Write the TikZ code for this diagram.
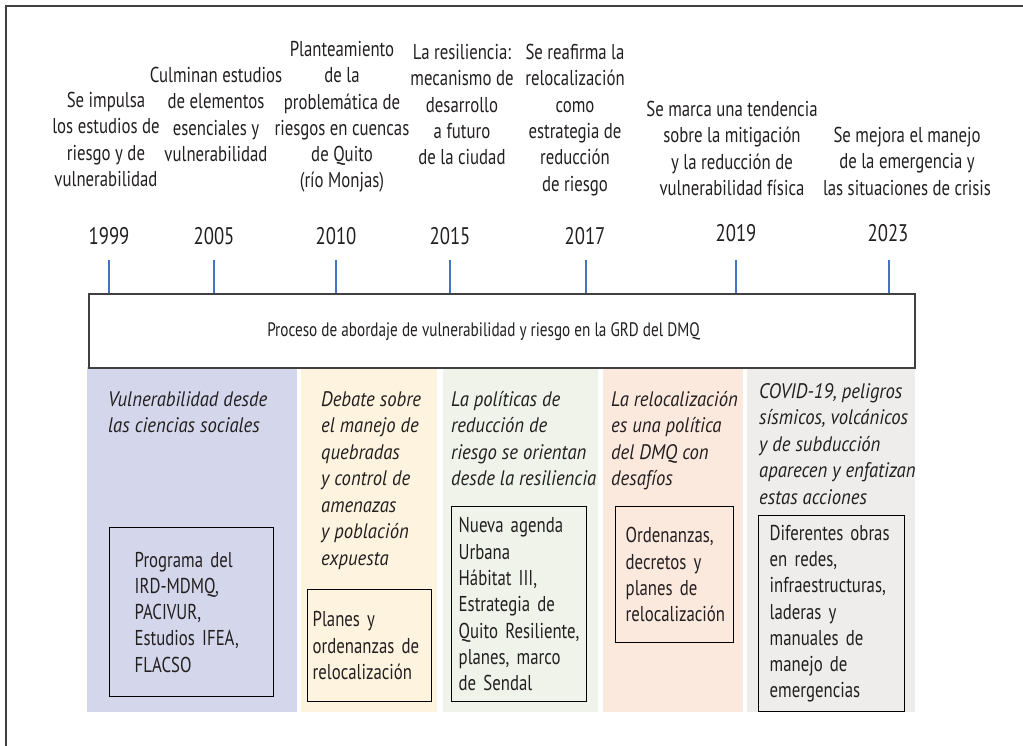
\documentclass[tikz,border=0pt]{standalone}
\usepackage{fontspec}
\setmainfont{PT Sans}[FakeStretch=0.78]
\newfontfamily\hdfont{PT Sans}[FakeStretch=0.89]
\definecolor{cBlue}{HTML}{D4D7EB}
\definecolor{cYel}{HTML}{FEF3DE}
\definecolor{cGrn}{HTML}{EFF3EA}
\definecolor{cPch}{HTML}{FCE9DE}
\definecolor{cGry}{HTML}{EEEDEB}
\definecolor{tickc}{HTML}{4472C4}
\definecolor{ink}{HTML}{231F20}
\definecolor{frame}{HTML}{404040}
\begin{document}
\begin{tikzpicture}[x=1pt,y=-1pt,
  toplabel/.style={anchor=north,align=center,inner sep=0pt,text=ink,font=\fontsize{21.5}{26.3}\selectfont},
  yearlabel/.style={anchor=center,inner sep=0pt,text=ink,font=\fontsize{24}{28}\selectfont},
  colbg/.style={anchor=north west,inner sep=0pt,draw=none},
  colhead/.style={anchor=north west,align=left,inner sep=0pt,text=ink,font=\hdfont\fontsize{21}{26.5}\selectfont\itshape},
  itembox/.style={anchor=north west,draw=black,line width=1.4pt,align=left,inner ysep=0pt,text=ink,font=\fontsize{21.5}{26.3}\selectfont},
  tickline/.style={draw=tickc,line width=1.6pt},
  mainbox/.style={anchor=north west,draw=frame,line width=1.8pt,inner sep=0pt,minimum width=826pt,minimum height=74pt}
]
\useasboundingbox (0,0) rectangle (1023,746);
% outer frame (top and left edges)
\coordinate (fTL) at (6,6);
\coordinate (fTR) at (1023,6);
\coordinate (fBL) at (6,746);
\draw[frame,line width=1.8pt] (fTR) -- (fTL) -- (fBL);

% columns backgrounds
\node[colbg,fill=cBlue,minimum width=210pt,minimum height=345pt] (c1) at (87,367) {};
\node[colbg,fill=cYel,minimum width=136pt,minimum height=345pt] (c2) at (301,367) {};
\node[colbg,fill=cGrn,minimum width=155pt,minimum height=345pt] (c3) at (443,367) {};
\node[colbg,fill=cPch,minimum width=140pt,minimum height=345pt] (c4) at (603,367) {};
\node[colbg,fill=cGry,minimum width=168pt,minimum height=345pt] (c5) at (747,367) {};

% main box
\node[mainbox] (main) at (88,293) {};
\node[inner sep=0pt,text=ink,font=\fontsize{19.5}{24}\selectfont] (mainlbl) at (483.5,332) {Proceso de abordaje de vulnerabilidad y riesgo en la GRD del DMQ};

% ticks
\coordinate (t1) at (109,260);
\coordinate (t2) at (214,260);
\coordinate (t3) at (336,260);
\coordinate (t4) at (450,260);
\coordinate (t5) at (586,260);
\coordinate (t6) at (736,260);
\coordinate (t7) at (889,260);
\foreach \t in {t1,t2,t3,t4,t5,t6,t7}{\draw[tickline] (\t) -- (\t |- main.north);}

% years
\node[yearlabel] (y1) at (109,236) {1999};
\node[yearlabel] (y2) at (214,236) {2005};
\node[yearlabel] (y3) at (336,236) {2010};
\node[yearlabel] (y4) at (450,236) {2015};
\node[yearlabel] (y5) at (585,236) {2017};
\node[yearlabel] (y6) at (736,233) {2019};
\node[yearlabel] (y7) at (888,233) {2023};

% top labels
\node[toplabel] (l1) at (106,92) {Se impulsa\\los estudios de\\riesgo y de\\vulnerabilidad};
\node[toplabel] (l2) at (216,67) {Culminan estudios\\de elementos\\esenciales y\\vulnerabilidad};
\node[toplabel] (l3) at (342,41) {Planteamiento\\de la\\problemática de\\riesgos en cuencas\\de Quito\\(río Monjas)};
\node[toplabel] (l4) at (462,44) {La resiliencia:\\mecanismo de\\desarrollo\\a futuro\\de la ciudad};
\node[toplabel] (l5) at (575,44) {Se reafirma la\\relocalización\\como\\estrategia de\\reducción\\de riesgo};
\node[toplabel] (l6) at (732,101) {Se marca una tendencia\\sobre la mitigación\\y la reducción de\\vulnerabilidad física};
\node[toplabel] (l7) at (907,127) {Se mejora el manejo\\de la emergencia y\\las situaciones de crisis};

% column headings
\node[colhead] (h1) at (108,391) {Vulnerabilidad desde\\las ciencias sociales};
\node[colhead] (h2) at (321,391) {Debate sobre\\el manejo de\\quebradas\\y control de\\amenazas\\y población\\expuesta};
\node[colhead] (h3) at (451,391) {La políticas de\\reducción de\\riesgo se orientan\\desde la resiliencia};
\node[colhead] (h4) at (611,391) {La relocalización\\es una política\\del DMQ con\\desafíos};
\node[colhead] (h5) at (759,383) {COVID-19, peligros\\sísmicos, volcánicos\\y de subducción\\aparecen y enfatizan\\estas acciones};

% item boxes
\node[itembox,inner xsep=25pt,text width=114pt,minimum height=169pt] (b1) at (109,527) {Programa del\\IRD-MDMQ,\\PACIVUR,\\Estudios IFEA,\\FLACSO};
\node[itembox,inner xsep=5pt,text width=114pt,minimum height=112pt] (b2) at (307,589) {Planes y\\ordenanzas de\\relocalización};
\node[itembox,inner xsep=7pt,text width=121pt,minimum height=195pt] (b3) at (451,506) {Nueva agenda\\Urbana\\Hábitat III,\\Estrategia de\\Quito Resiliente,\\planes, marco\\de Sendal};
\node[itembox,inner xsep=10pt,text width=98pt,minimum height=136pt] (b4) at (615,506) {Ordenanzas,\\decretos y\\planes de\\relocalización};
\node[itembox,inner xsep=11pt,text width=124pt,minimum height=196pt] (b5) at (758,515) {Diferentes obras\\en redes,\\infraestructuras,\\laderas y\\manuales de\\manejo de\\emergencias};
\end{tikzpicture}
\end{document}
